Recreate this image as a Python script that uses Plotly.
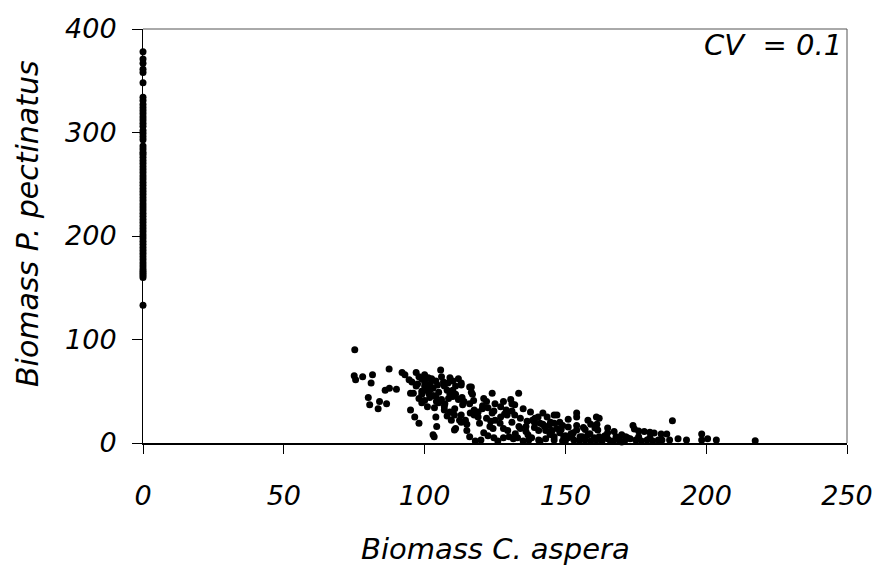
import plotly.graph_objects as go

# Column of points at C. aspera biomass = 0
col_x = [0] * 66
col_y = [378, 371, 367, 361, 358, 348, 334, 331, 327, 324, 321, 318, 315, 312, 309,
         306, 302, 299, 296, 293, 287, 284, 281, 279, 276, 273, 270, 267, 264, 261,
         258, 255, 252, 249, 246, 243, 240, 237, 234, 231, 228, 225, 222, 219, 216,
         213, 210, 207, 204, 201, 198, 195, 192, 189, 186, 183, 180, 177, 174, 171,
         168, 166, 164, 162, 160, 133]

# Cluster of co-occurring points
cl_x = [75.2, 75, 75.5, 78, 81.5, 81, 87.4, 80, 80.5, 84, 83.5, 86.5, 86, 87.5, 90,
        92, 93, 94.5, 95.5, 97, 98, 100, 95, 96, 98, 99, 100, 101.5, 101.8, 103,
        105, 105.7, 106.7, 108, 109, 108.5, 95, 96.5, 98, 103.5, 104, 104.3, 103, 103.4, 107,
        108, 109.5, 110.6, 105, 107, 101,
        99, 100, 102, 102.5, 104, 106, 107, 110, 110, 99, 97, 102, 104, 111, 112, 100, 106,
        113, 116, 117, 110, 111, 112, 114, 113.5, 116, 117.6, 117.6, 113, 114.5, 113, 111,
        115, 116, 121, 122, 124, 122.5, 124, 124.6, 122, 123.5, 125, 121, 122.5, 124.6, 127,
        127, 128, 129.5, 130.6, 131, 132, 133.4, 132, 134, 131, 134, 136, 130, 131.5, 133,
        137.6, 138.3, 139, 140.5, 138, 140.5, 142, 143.5, 144.7, 143, 144.5, 146, 147, 146, 128,
        129, 119, 119.5, 110.6, 109, 113, 116.6, 116.6, 120, 118, 126, 128, 135, 137,
        141, 143, 142, 139, 136,
        146, 148, 149, 151, 154, 154, 154, 154, 158, 159, 161, 162, 160.5, 161.5, 165,
        165, 174, 174.5, 176, 178, 180, 181.5, 184, 186, 184.3, 187, 190, 193, 188, 198.4,
        198.4, 200.5, 203.6, 217.4,
        146, 149, 151, 153, 155, 157, 159, 161, 163, 165, 167, 169, 171, 173, 175,
        177, 179, 181, 183, 145, 148, 150, 152, 156, 158, 162, 164, 168, 170, 172,
        176, 180, 150, 157, 166, 170,
        97.5, 99, 101.3, 103, 104.6, 107.2, 109, 110.7, 113.3, 115, 117.4, 119, 120.6,
        123.2, 125, 126.8, 129.3, 131, 133.5, 135, 136.7, 139.2, 141, 142.6, 145.3, 147,
        149.4, 151, 152.8, 155.2, 157, 158.7, 161.2, 163, 164.6, 167.3, 169, 171.4,
        100.6, 104.2, 108.3, 112.4, 116.2, 120.5, 124.3, 128.4, 132.2, 136.4, 140.3,
        144.2, 148.5, 152.3, 156.4, 160.2]
cl_y = [90, 65, 61, 64, 66, 58, 71.5, 44, 37, 40, 33, 38, 51, 53, 52,
        68, 66, 61, 59, 68, 64, 59, 48, 48, 43, 39, 41, 48, 44, 53,
        49, 70.5, 59, 51, 47, 43, 32, 25, 19, 34, 25, 16, 8, 6, 32,
        26, 22, 12.5, 39, 35, 35,
        62, 55, 57, 62, 45, 42, 55, 60, 45, 47, 55, 52, 60, 55, 62, 66, 64,
        58, 54, 47, 51, 47, 42, 40, 37, 38, 32, 27, 27, 22, 20, 14,
        12, 6, 43, 40, 48, 34, 29, 31, 24, 21, 22, 10, 7, 5, 35,
        25, 14, 12, 42, 38, 37, 48, 27, 24, 20, 14, 11, 6, 4, 5,
        30, 22, 15, 12, 5, 3, 29, 25, 20, 12, 9, 6, 27, 19, 40,
        32, 25, 19, 27, 63, 56, 54, 49, 3, 2, 2, 5, 2, 3,
        2, 4, 18, 20, 16,
        27, 20, 17, 15.5, 29, 25, 17, 12.6, 22, 18, 25, 24, 14.5, 12.6, 14.5,
        10, 17, 13.5, 11.6, 11, 10.5, 9.7, 8.7, 8.7, 3, 3, 4, 3, 21.5, 8.7,
        3, 4, 3, 2.2,
        3, 2, 5, 3, 2, 4, 2, 3, 2, 4, 2, 3, 2, 4, 3,
        2, 3, 2, 3, 8, 10, 7, 9, 6, 8, 6, 7, 6, 8, 5,
        6, 5, 2, 3, 2, 1,
        57, 50, 63, 46, 56, 38, 30, 33, 44, 18, 41, 30, 36,
        16, 38, 19, 27, 31, 16, 33, 8, 24, 19, 16, 12, 14,
        6, 23, 10, 6, 13, 9, 18, 4, 7, 11, 5, 6,
        51, 40, 58, 22, 29, 33, 14, 28, 9, 21, 25,
        17, 13, 7, 15, 5]

x_ticks = [0, 50, 100, 150, 200, 250]
y_ticks = [0, 100, 200, 300, 400]

FONT = "DejaVu Sans, Arial, sans-serif"

fig = go.Figure()
fig.add_trace(go.Scatter(x=col_x + cl_x, y=col_y + cl_y, mode="markers",
                         marker=dict(color="black", size=7, line=dict(width=0)),
                         cliponaxis=False, showlegend=False))

fig.update_layout(
    width=885, height=565,
    margin=dict(l=143, r=29, t=29, b=122),
    paper_bgcolor="white", plot_bgcolor="white",
    xaxis=dict(range=[0, 250], tickvals=x_ticks, ticktext=[str(v) for v in x_ticks],
               showgrid=False, zeroline=False, showline=True, linecolor="black", linewidth=2,
               ticks="outside", ticklen=9, tickcolor="black", tickwidth=1,
               ticklabelstandoff=19,
               tickfont=dict(family=FONT, size=27, color="black", style="italic")),
    yaxis=dict(range=[0, 400], tickvals=y_ticks, ticktext=[str(v) for v in y_ticks],
               showgrid=False, zeroline=False, showline=True, linecolor="black", linewidth=1,
               ticks="outside", ticklen=10, tickcolor="black", tickwidth=1,
               ticklabelstandoff=10,
               tickfont=dict(family=FONT, size=27, color="black", style="italic")),
    shapes=[
        dict(type="line", xref="paper", yref="paper", x0=0, x1=1, y0=1, y1=1,
             line=dict(color="#555555", width=1)),
        dict(type="line", xref="paper", yref="paper", x0=1, x1=1, y0=0, y1=1,
             line=dict(color="#555555", width=1)),
    ],
    annotations=[
        dict(text="Biomass C. aspera", xref="paper", yref="paper", x=0.5, y=-0.255,
             xanchor="center", yanchor="middle", showarrow=False,
             font=dict(family=FONT, size=29, color="black", style="italic")),
        dict(text="Biomass P. pectinatus", xref="paper", yref="paper", x=-0.165, y=0.531,
             xanchor="center", yanchor="middle", showarrow=False, textangle=-90,
             font=dict(family=FONT, size=30, color="black", style="italic")),
        dict(text="CV\u00a0 = 0.1", xref="paper", yref="paper", x=0.996, y=0.962,
             xanchor="right", yanchor="middle", showarrow=False,
             font=dict(family=FONT, size=29, color="black", style="italic")),
    ],
)

fig.write_html("out.html")
